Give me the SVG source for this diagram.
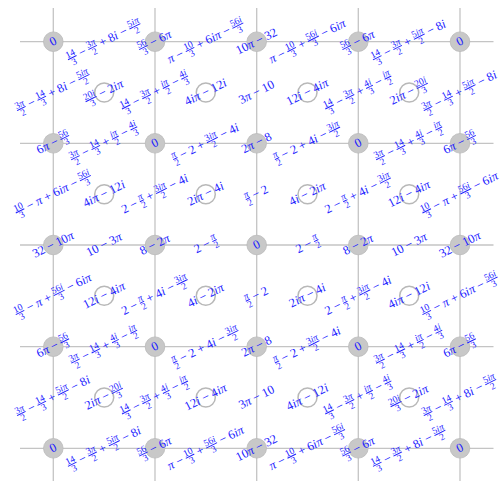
<svg xmlns="http://www.w3.org/2000/svg" width="504" height="481" viewBox="0 0 504 481">
<style>
.grid{stroke:#c4c4c4;stroke-width:1.3;fill:none}
.node{fill:#c8c8c8;stroke:#bababa;stroke-width:0.8}
.face{fill:none;stroke:#b8b8b8;stroke-width:1.5}
.L{font-family:"Liberation Serif","DejaVu Serif",serif;font-size:12.5px;fill:#1a1aff;text-anchor:middle}
.i{font-style:italic}
.n{font-size:9.5px;text-decoration:underline}
.d{font-size:9.5px}
</style>
<defs>
<text id="A1" class="L" y="3.5" transform="rotate(-26.6)"><tspan class="n" dy="-5">14</tspan><tspan class="d" dx="-7.1" dy="9">3</tspan><tspan dx="2.4" dy="-4"> − </tspan><tspan class="n" dy="-5">3<tspan class="i">π</tspan></tspan><tspan class="d" dx="-7.2" dy="9">2</tspan><tspan dx="2.5" dy="-4"> + 8<tspan class="i">i</tspan> − </tspan><tspan class="n" dy="-5">5<tspan class="i">iπ</tspan></tspan><tspan class="d" dx="-8.5" dy="9">2</tspan></text>
<text id="A2" class="L" y="3.5" transform="rotate(-26.6)"><tspan class="n" dy="-5">14</tspan><tspan class="d" dx="-7.1" dy="9">3</tspan><tspan dx="2.4" dy="-4"> − </tspan><tspan class="n" dy="-5">3<tspan class="i">π</tspan></tspan><tspan class="d" dx="-7.2" dy="9">2</tspan><tspan dx="2.5" dy="-4"> + </tspan><tspan class="n" dy="-5">5<tspan class="i">iπ</tspan></tspan><tspan class="d" dx="-8.5" dy="9">2</tspan><tspan dx="3.8" dy="-4"> − 8<tspan class="i">i</tspan></tspan></text>
<text id="B1" class="L" y="3.5" transform="rotate(-26.6)"><tspan class="i">π</tspan> − <tspan class="n" dy="-5">10</tspan><tspan class="d" dx="-7.1" dy="9">3</tspan><tspan dx="2.4" dy="-4"> + 6<tspan class="i">iπ</tspan> − </tspan><tspan class="n" dy="-5">56<tspan class="i">i</tspan></tspan><tspan class="d" dx="-8.4" dy="9">3</tspan></text>
<text id="B2" class="L" y="3.5" transform="rotate(-26.6)"><tspan class="i">π</tspan> − <tspan class="n" dy="-5">10</tspan><tspan class="d" dx="-7.1" dy="9">3</tspan><tspan dx="2.4" dy="-4"> + </tspan><tspan class="n" dy="-5">56<tspan class="i">i</tspan></tspan><tspan class="d" dx="-8.4" dy="9">3</tspan><tspan dx="3.7" dy="-4"> − 6<tspan class="i">iπ</tspan></tspan></text>
<text id="C1" class="L" y="3.5" transform="rotate(-26.6)"><tspan class="n" dy="-5">3<tspan class="i">π</tspan></tspan><tspan class="d" dx="-7.2" dy="9">2</tspan><tspan dx="2.5" dy="-4"> − </tspan><tspan class="n" dy="-5">14</tspan><tspan class="d" dx="-7.1" dy="9">3</tspan><tspan dx="2.4" dy="-4"> + </tspan><tspan class="n" dy="-5"><tspan class="i">iπ</tspan></tspan><tspan class="d" dx="-6.1" dy="9">2</tspan><tspan dx="1.4" dy="-4"> − </tspan><tspan class="n" dy="-5">4<tspan class="i">i</tspan></tspan><tspan class="d" dx="-6.1" dy="9">3</tspan></text>
<text id="C2" class="L" y="3.5" transform="rotate(-26.6)"><tspan class="n" dy="-5">3<tspan class="i">π</tspan></tspan><tspan class="d" dx="-7.2" dy="9">2</tspan><tspan dx="2.5" dy="-4"> − </tspan><tspan class="n" dy="-5">14</tspan><tspan class="d" dx="-7.1" dy="9">3</tspan><tspan dx="2.4" dy="-4"> + </tspan><tspan class="n" dy="-5">4<tspan class="i">i</tspan></tspan><tspan class="d" dx="-6.1" dy="9">3</tspan><tspan dx="1.3" dy="-4"> − </tspan><tspan class="n" dy="-5"><tspan class="i">iπ</tspan></tspan><tspan class="d" dx="-6.1" dy="9">2</tspan></text>
<text id="D1" class="L" y="3.5" transform="rotate(-26.6)"><tspan class="n" dy="-5"><tspan class="i">π</tspan></tspan><tspan class="d" dx="-4.8" dy="9">2</tspan><tspan dx="0.1" dy="-4"> − 2 + </tspan><tspan class="n" dy="-5">3<tspan class="i">iπ</tspan></tspan><tspan class="d" dx="-8.5" dy="9">2</tspan><tspan dx="3.8" dy="-4"> − 4<tspan class="i">i</tspan></tspan></text>
<text id="D2" class="L" y="3.5" transform="rotate(-26.6)"><tspan class="n" dy="-5"><tspan class="i">π</tspan></tspan><tspan class="d" dx="-4.8" dy="9">2</tspan><tspan dx="0.1" dy="-4"> − 2 + 4<tspan class="i">i</tspan> − </tspan><tspan class="n" dy="-5">3<tspan class="i">iπ</tspan></tspan><tspan class="d" dx="-8.5" dy="9">2</tspan></text>
<text id="E" class="L" y="3.5" transform="rotate(-26.6)">10 − 3<tspan class="i">π</tspan></text>
<text id="F" class="L" y="3.5" transform="rotate(-26.6)">2 − <tspan class="n" dy="-5"><tspan class="i">π</tspan></tspan><tspan class="d" dx="-4.8" dy="9">2</tspan></text>
<text id="G1" class="L" y="3.5" transform="rotate(-26.6)"><tspan class="n" dy="-5">3<tspan class="i">π</tspan></tspan><tspan class="d" dx="-7.2" dy="9">2</tspan><tspan dx="2.5" dy="-4"> − </tspan><tspan class="n" dy="-5">14</tspan><tspan class="d" dx="-7.1" dy="9">3</tspan><tspan dx="2.4" dy="-4"> + 8<tspan class="i">i</tspan> − </tspan><tspan class="n" dy="-5">5<tspan class="i">iπ</tspan></tspan><tspan class="d" dx="-8.5" dy="9">2</tspan></text>
<text id="G2" class="L" y="3.5" transform="rotate(-26.6)"><tspan class="n" dy="-5">3<tspan class="i">π</tspan></tspan><tspan class="d" dx="-7.2" dy="9">2</tspan><tspan dx="2.5" dy="-4"> − </tspan><tspan class="n" dy="-5">14</tspan><tspan class="d" dx="-7.1" dy="9">3</tspan><tspan dx="2.4" dy="-4"> + </tspan><tspan class="n" dy="-5">5<tspan class="i">iπ</tspan></tspan><tspan class="d" dx="-8.5" dy="9">2</tspan><tspan dx="3.8" dy="-4"> − 8<tspan class="i">i</tspan></tspan></text>
<text id="H1" class="L" y="3.5" transform="rotate(-26.6)"><tspan class="n" dy="-5">14</tspan><tspan class="d" dx="-7.1" dy="9">3</tspan><tspan dx="2.4" dy="-4"> − </tspan><tspan class="n" dy="-5">3<tspan class="i">π</tspan></tspan><tspan class="d" dx="-7.2" dy="9">2</tspan><tspan dx="2.5" dy="-4"> + </tspan><tspan class="n" dy="-5"><tspan class="i">iπ</tspan></tspan><tspan class="d" dx="-6.1" dy="9">2</tspan><tspan dx="1.4" dy="-4"> − </tspan><tspan class="n" dy="-5">4<tspan class="i">i</tspan></tspan><tspan class="d" dx="-6.1" dy="9">3</tspan></text>
<text id="H2" class="L" y="3.5" transform="rotate(-26.6)"><tspan class="n" dy="-5">14</tspan><tspan class="d" dx="-7.1" dy="9">3</tspan><tspan dx="2.4" dy="-4"> − </tspan><tspan class="n" dy="-5">3<tspan class="i">π</tspan></tspan><tspan class="d" dx="-7.2" dy="9">2</tspan><tspan dx="2.5" dy="-4"> + </tspan><tspan class="n" dy="-5">4<tspan class="i">i</tspan></tspan><tspan class="d" dx="-6.1" dy="9">3</tspan><tspan dx="1.3" dy="-4"> − </tspan><tspan class="n" dy="-5"><tspan class="i">iπ</tspan></tspan><tspan class="d" dx="-6.1" dy="9">2</tspan></text>
<text id="I" class="L" y="3.5" transform="rotate(-26.6)">3<tspan class="i">π</tspan> − 10</text>
<text id="J1" class="L" y="3.5" transform="rotate(-26.6)"><tspan class="n" dy="-5">10</tspan><tspan class="d" dx="-7.1" dy="9">3</tspan><tspan dx="2.4" dy="-4"> − <tspan class="i">π</tspan> + 6<tspan class="i">iπ</tspan> − </tspan><tspan class="n" dy="-5">56<tspan class="i">i</tspan></tspan><tspan class="d" dx="-8.4" dy="9">3</tspan></text>
<text id="J2" class="L" y="3.5" transform="rotate(-26.6)"><tspan class="n" dy="-5">10</tspan><tspan class="d" dx="-7.1" dy="9">3</tspan><tspan dx="2.4" dy="-4"> − <tspan class="i">π</tspan> + </tspan><tspan class="n" dy="-5">56<tspan class="i">i</tspan></tspan><tspan class="d" dx="-8.4" dy="9">3</tspan><tspan dx="3.7" dy="-4"> − 6<tspan class="i">iπ</tspan></tspan></text>
<text id="K1" class="L" y="3.5" transform="rotate(-26.6)">2 − <tspan class="n" dy="-5"><tspan class="i">π</tspan></tspan><tspan class="d" dx="-4.8" dy="9">2</tspan><tspan dx="0.1" dy="-4"> + </tspan><tspan class="n" dy="-5">3<tspan class="i">iπ</tspan></tspan><tspan class="d" dx="-8.5" dy="9">2</tspan><tspan dx="3.8" dy="-4"> − 4<tspan class="i">i</tspan></tspan></text>
<text id="K2" class="L" y="3.5" transform="rotate(-26.6)">2 − <tspan class="n" dy="-5"><tspan class="i">π</tspan></tspan><tspan class="d" dx="-4.8" dy="9">2</tspan><tspan dx="0.1" dy="-4"> + 4<tspan class="i">i</tspan> − </tspan><tspan class="n" dy="-5">3<tspan class="i">iπ</tspan></tspan><tspan class="d" dx="-8.5" dy="9">2</tspan></text>
<text id="Lb" class="L" y="3.5" transform="rotate(-26.6)"><tspan class="n" dy="-5"><tspan class="i">π</tspan></tspan><tspan class="d" dx="-4.8" dy="9">2</tspan><tspan dx="0.1" dy="-4"> − 2</tspan></text>
<text id="V0" class="L" y="3.5" transform="rotate(-26.6)">0</text>
<text id="V1" class="L" y="3.5" transform="rotate(-26.6)"><tspan class="n" dy="-5">56</tspan><tspan class="d" dx="-7.1" dy="9">3</tspan><tspan dx="2.4" dy="-4"> − 6<tspan class="i">π</tspan></tspan></text>
<text id="V2" class="L" y="3.5" transform="rotate(-26.6)">10<tspan class="i">π</tspan> − 32</text>
<text id="V3" class="L" y="3.5" transform="rotate(-26.6)">6<tspan class="i">π</tspan> − <tspan class="n" dy="-5">56</tspan><tspan class="d" dx="-7.1" dy="9">3</tspan></text>
<text id="V4" class="L" y="3.5" transform="rotate(-26.6)">2<tspan class="i">π</tspan> − 8</text>
<text id="V5" class="L" y="3.5" transform="rotate(-26.6)">32 − 10<tspan class="i">π</tspan></text>
<text id="V6" class="L" y="3.5" transform="rotate(-26.6)">8 − 2<tspan class="i">π</tspan></text>
<text id="F1" class="L" y="3.5" transform="rotate(-26.6)"><tspan class="n" dy="-5">20<tspan class="i">i</tspan></tspan><tspan class="d" dx="-8.4" dy="9">3</tspan><tspan dx="3.7" dy="-4"> − 2<tspan class="i">iπ</tspan></tspan></text>
<text id="F2" class="L" y="3.5" transform="rotate(-26.6)">2<tspan class="i">iπ</tspan> − <tspan class="n" dy="-5">20<tspan class="i">i</tspan></tspan><tspan class="d" dx="-8.4" dy="9">3</tspan></text>
<text id="F3" class="L" y="3.5" transform="rotate(-26.6)">4<tspan class="i">iπ</tspan> − 12<tspan class="i">i</tspan></text>
<text id="F4" class="L" y="3.5" transform="rotate(-26.6)">12<tspan class="i">i</tspan> − 4<tspan class="i">iπ</tspan></text>
<text id="F5" class="L" y="3.5" transform="rotate(-26.6)">2<tspan class="i">iπ</tspan> − 4<tspan class="i">i</tspan></text>
<text id="F6" class="L" y="3.5" transform="rotate(-26.6)">4<tspan class="i">i</tspan> − 2<tspan class="i">iπ</tspan></text>
</defs>
<rect width="504" height="481" fill="#ffffff"/>
<g id="connectors">
<g class="grid">
<line x1="20" y1="41.7" x2="493.5" y2="41.7"/>
<line x1="20" y1="143.3" x2="493.5" y2="143.3"/>
<line x1="20" y1="245" x2="493.5" y2="245"/>
<line x1="20" y1="346.7" x2="493.5" y2="346.7"/>
<line x1="20" y1="448.3" x2="493.5" y2="448.3"/>
<line x1="53.3" y1="8" x2="53.3" y2="481"/>
<line x1="155" y1="8" x2="155" y2="481"/>
<line x1="256.7" y1="8" x2="256.7" y2="481"/>
<line x1="358.3" y1="8" x2="358.3" y2="481"/>
<line x1="460" y1="8" x2="460" y2="481"/>
</g>
</g>
<g id="faces">
<g id="face-1-1"><circle class="face" cx="104.2" cy="92.5" r="9.5"/></g>
<g id="face-1-2"><circle class="face" cx="205.8" cy="92.5" r="9.5"/></g>
<g id="face-1-3"><circle class="face" cx="307.5" cy="92.5" r="9.5"/></g>
<g id="face-1-4"><circle class="face" cx="409.2" cy="92.5" r="9.5"/></g>
<g id="face-2-1"><circle class="face" cx="104.2" cy="194.2" r="9.5"/></g>
<g id="face-2-2"><circle class="face" cx="205.8" cy="194.2" r="9.5"/></g>
<g id="face-2-3"><circle class="face" cx="307.5" cy="194.2" r="9.5"/></g>
<g id="face-2-4"><circle class="face" cx="409.2" cy="194.2" r="9.5"/></g>
<g id="face-3-1"><circle class="face" cx="104.2" cy="295.8" r="9.5"/></g>
<g id="face-3-2"><circle class="face" cx="205.8" cy="295.8" r="9.5"/></g>
<g id="face-3-3"><circle class="face" cx="307.5" cy="295.8" r="9.5"/></g>
<g id="face-3-4"><circle class="face" cx="409.2" cy="295.8" r="9.5"/></g>
<g id="face-4-1"><circle class="face" cx="104.2" cy="397.5" r="9.5"/></g>
<g id="face-4-2"><circle class="face" cx="205.8" cy="397.5" r="9.5"/></g>
<g id="face-4-3"><circle class="face" cx="307.5" cy="397.5" r="9.5"/></g>
<g id="face-4-4"><circle class="face" cx="409.2" cy="397.5" r="9.5"/></g>
</g>
<g id="nodes">
<g id="node-1-1"><circle class="node" cx="53.3" cy="41.7" r="9.8"/></g>
<g id="node-1-2"><circle class="node" cx="155" cy="41.7" r="9.8"/></g>
<g id="node-1-3"><circle class="node" cx="256.7" cy="41.7" r="9.8"/></g>
<g id="node-1-4"><circle class="node" cx="358.3" cy="41.7" r="9.8"/></g>
<g id="node-1-5"><circle class="node" cx="460" cy="41.7" r="9.8"/></g>
<g id="node-2-1"><circle class="node" cx="53.3" cy="143.3" r="9.8"/></g>
<g id="node-2-2"><circle class="node" cx="155" cy="143.3" r="9.8"/></g>
<g id="node-2-3"><circle class="node" cx="256.7" cy="143.3" r="9.8"/></g>
<g id="node-2-4"><circle class="node" cx="358.3" cy="143.3" r="9.8"/></g>
<g id="node-2-5"><circle class="node" cx="460" cy="143.3" r="9.8"/></g>
<g id="node-3-1"><circle class="node" cx="53.3" cy="245" r="9.8"/></g>
<g id="node-3-2"><circle class="node" cx="155" cy="245" r="9.8"/></g>
<g id="node-3-3"><circle class="node" cx="256.7" cy="245" r="9.8"/></g>
<g id="node-3-4"><circle class="node" cx="358.3" cy="245" r="9.8"/></g>
<g id="node-3-5"><circle class="node" cx="460" cy="245" r="9.8"/></g>
<g id="node-4-1"><circle class="node" cx="53.3" cy="346.7" r="9.8"/></g>
<g id="node-4-2"><circle class="node" cx="155" cy="346.7" r="9.8"/></g>
<g id="node-4-3"><circle class="node" cx="256.7" cy="346.7" r="9.8"/></g>
<g id="node-4-4"><circle class="node" cx="358.3" cy="346.7" r="9.8"/></g>
<g id="node-4-5"><circle class="node" cx="460" cy="346.7" r="9.8"/></g>
<g id="node-5-1"><circle class="node" cx="53.3" cy="448.3" r="9.8"/></g>
<g id="node-5-2"><circle class="node" cx="155" cy="448.3" r="9.8"/></g>
<g id="node-5-3"><circle class="node" cx="256.7" cy="448.3" r="9.8"/></g>
<g id="node-5-4"><circle class="node" cx="358.3" cy="448.3" r="9.8"/></g>
<g id="node-5-5"><circle class="node" cx="460" cy="448.3" r="9.8"/></g>
</g>
<g id="edge-labels">
<use href="#A1" x="104.2" y="41.7"/><use href="#B1" x="205.8" y="41.7"/><use href="#B2" x="307.5" y="41.7"/><use href="#A2" x="409.2" y="41.7"/>
<use href="#C1" x="104.2" y="143.3"/><use href="#D1" x="205.8" y="143.3"/><use href="#D2" x="307.5" y="143.3"/><use href="#C2" x="409.2" y="143.3"/>
<use href="#E" x="104.2" y="245"/><use href="#F" x="205.8" y="245"/><use href="#F" x="307.5" y="245"/><use href="#E" x="409.2" y="245"/>
<use href="#C2" x="104.2" y="346.7"/><use href="#D2" x="205.8" y="346.7"/><use href="#D1" x="307.5" y="346.7"/><use href="#C1" x="409.2" y="346.7"/>
<use href="#A2" x="104.2" y="448.3"/><use href="#B2" x="205.8" y="448.3"/><use href="#B1" x="307.5" y="448.3"/><use href="#A1" x="409.2" y="448.3"/>
<use href="#G1" x="53.3" y="92.5"/><use href="#H1" x="155" y="92.5"/><use href="#I" x="256.7" y="92.5"/><use href="#H2" x="358.3" y="92.5"/><use href="#G2" x="460" y="92.5"/>
<use href="#J1" x="53.3" y="194.2"/><use href="#K1" x="155" y="194.2"/><use href="#Lb" x="256.7" y="194.2"/><use href="#K2" x="358.3" y="194.2"/><use href="#J2" x="460" y="194.2"/>
<use href="#J2" x="53.3" y="295.8"/><use href="#K2" x="155" y="295.8"/><use href="#Lb" x="256.7" y="295.8"/><use href="#K1" x="358.3" y="295.8"/><use href="#J1" x="460" y="295.8"/>
<use href="#G2" x="53.3" y="397.5"/><use href="#H2" x="155" y="397.5"/><use href="#I" x="256.7" y="397.5"/><use href="#H1" x="358.3" y="397.5"/><use href="#G1" x="460" y="397.5"/>
</g>
<g id="node-labels">
<use href="#V0" x="53.3" y="41.7"/><use href="#V1" x="155" y="41.7"/><use href="#V2" x="256.7" y="41.7"/><use href="#V1" x="358.3" y="41.7"/><use href="#V0" x="460" y="41.7"/>
<use href="#V3" x="53.3" y="143.3"/><use href="#V0" x="155" y="143.3"/><use href="#V4" x="256.7" y="143.3"/><use href="#V0" x="358.3" y="143.3"/><use href="#V3" x="460" y="143.3"/>
<use href="#V5" x="53.3" y="245"/><use href="#V6" x="155" y="245"/><use href="#V0" x="256.7" y="245"/><use href="#V6" x="358.3" y="245"/><use href="#V5" x="460" y="245"/>
<use href="#V3" x="53.3" y="346.7"/><use href="#V0" x="155" y="346.7"/><use href="#V4" x="256.7" y="346.7"/><use href="#V0" x="358.3" y="346.7"/><use href="#V3" x="460" y="346.7"/>
<use href="#V0" x="53.3" y="448.3"/><use href="#V1" x="155" y="448.3"/><use href="#V2" x="256.7" y="448.3"/><use href="#V1" x="358.3" y="448.3"/><use href="#V0" x="460" y="448.3"/>
</g>
<g id="face-labels">
<use href="#F1" x="104.2" y="92.5"/><use href="#F3" x="205.8" y="92.5"/><use href="#F4" x="307.5" y="92.5"/><use href="#F2" x="409.2" y="92.5"/>
<use href="#F3" x="104.2" y="194.2"/><use href="#F5" x="205.8" y="194.2"/><use href="#F6" x="307.5" y="194.2"/><use href="#F4" x="409.2" y="194.2"/>
<use href="#F4" x="104.2" y="295.8"/><use href="#F6" x="205.8" y="295.8"/><use href="#F5" x="307.5" y="295.8"/><use href="#F3" x="409.2" y="295.8"/>
<use href="#F2" x="104.2" y="397.5"/><use href="#F4" x="205.8" y="397.5"/><use href="#F3" x="307.5" y="397.5"/><use href="#F1" x="409.2" y="397.5"/>
</g>
</svg>
